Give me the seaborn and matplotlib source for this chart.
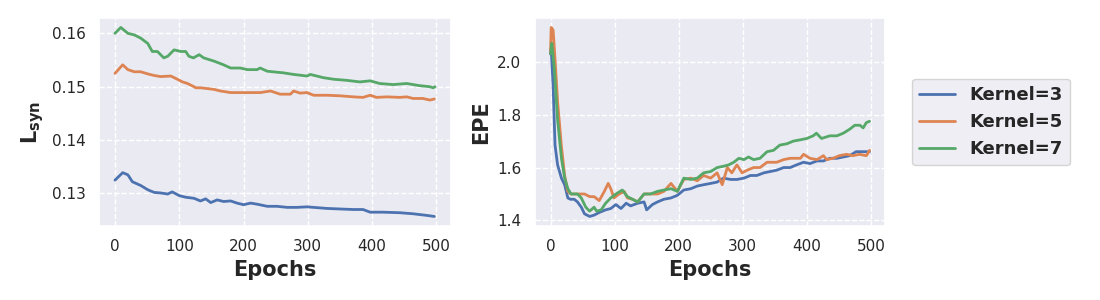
import pandas as pd
import numpy as np
import matplotlib
matplotlib.use('Agg')
import matplotlib.pyplot as plt
import seaborn as sns

# L_syn curves (left panel)
syn_ep_k3 = [0, 12, 20, 27, 40, 51, 61, 71, 82, 89, 100, 110, 123, 133, 141, 149, 159, 169, 180, 190,
             200, 211, 221, 237, 252, 268, 283, 299, 309, 330, 350, 371, 386, 397, 417, 443, 464, 485, 497]
syn_k3 = [0.1325, 0.1339, 0.1335, 0.1322, 0.1315, 0.1307, 0.1302, 0.1301, 0.1299, 0.1303, 0.1296, 0.1293,
          0.1291, 0.1286, 0.1290, 0.1283, 0.1288, 0.1285, 0.1286, 0.1282, 0.1279, 0.1282, 0.1280, 0.1276,
          0.1276, 0.1274, 0.1274, 0.1275, 0.1274, 0.1272, 0.1271, 0.1270, 0.1270, 0.1265, 0.1265, 0.1264,
          0.1262, 0.1259, 0.1257]

syn_ep_k5 = [0, 12, 20, 30, 40, 51, 61, 71, 87, 97, 105, 113, 126, 133, 154, 164, 180, 195, 211, 226,
             242, 257, 273, 278, 288, 299, 309, 330, 350, 371, 386, 397, 407, 423, 443, 454, 464, 479, 490, 497]
syn_k5 = [0.1525, 0.1541, 0.1532, 0.1528, 0.1528, 0.1524, 0.1521, 0.1519, 0.1520, 0.1514, 0.1509, 0.1506,
          0.1498, 0.1498, 0.1495, 0.1492, 0.1489, 0.1489, 0.1489, 0.1489, 0.1492, 0.1486, 0.1486, 0.1492,
          0.1488, 0.1489, 0.1484, 0.1484, 0.1483, 0.1481, 0.1480, 0.1484, 0.1480, 0.1481, 0.1480, 0.1481,
          0.1478, 0.1478, 0.1475, 0.1477]

syn_ep_k7 = [0, 9, 20, 30, 40, 51, 58, 66, 76, 82, 92, 102, 110, 115, 122, 131, 138, 154, 169, 180,
             195, 206, 221, 226, 237, 262, 278, 299, 304, 324, 340, 360, 381, 397, 412, 433, 454, 474, 490, 495, 498]
syn_k7 = [0.1600, 0.1611, 0.1600, 0.1597, 0.1591, 0.1581, 0.1566, 0.1566, 0.1554, 0.1557, 0.1569, 0.1566,
          0.1566, 0.1557, 0.1554, 0.1560, 0.1554, 0.1548, 0.1541, 0.1535, 0.1535, 0.1532, 0.1532, 0.1535,
          0.1529, 0.1526, 0.1523, 0.1520, 0.1523, 0.1517, 0.1514, 0.1512, 0.1509, 0.1511, 0.1506, 0.1504,
          0.1506, 0.1502, 0.1500, 0.1498, 0.1500]

# EPE curves (right panel)
epe_ep_k3 = [0, 1, 4, 7, 11, 17, 22, 27, 31, 37, 42, 48, 53, 61, 68, 76, 86, 94, 102, 110, 118, 125,
             136, 146, 150, 159, 167, 177, 188, 198, 208, 219, 229, 239, 250, 260, 270, 281, 291, 302,
             312, 322, 333, 343, 353, 364, 374, 384, 395, 405, 416, 426, 436, 447, 457, 467, 477, 488, 498]
epe_k3 = [2.03, 2.05, 1.91, 1.685, 1.61, 1.56, 1.535, 1.485, 1.48, 1.48, 1.47, 1.45, 1.425, 1.415, 1.42,
          1.43, 1.44, 1.445, 1.46, 1.445, 1.465, 1.455, 1.465, 1.47, 1.44, 1.46, 1.47, 1.48, 1.485, 1.495,
          1.515, 1.52, 1.53, 1.535, 1.54, 1.545, 1.56, 1.555, 1.555, 1.56, 1.57, 1.57, 1.58, 1.585, 1.59,
          1.60, 1.60, 1.61, 1.62, 1.615, 1.625, 1.625, 1.635, 1.635, 1.64, 1.645, 1.66, 1.66, 1.66]

epe_ep_k5 = [0, 1, 4, 7, 11, 17, 22, 27, 32, 42, 53, 61, 68, 76, 84, 90, 94, 99, 107, 115, 120, 128,
             136, 146, 156, 167, 177, 188, 198, 208, 219, 229, 239, 250, 260, 268, 276, 283, 291, 299,
             307, 317, 327, 338, 353, 364, 374, 390, 395, 405, 416, 426, 431, 441, 451, 462, 472, 482, 493, 498]
epe_k5 = [2.04, 2.13, 2.12, 2.01, 1.85, 1.68, 1.57, 1.51, 1.50, 1.50, 1.50, 1.49, 1.49, 1.475, 1.51,
          1.54, 1.52, 1.485, 1.50, 1.51, 1.485, 1.48, 1.47, 1.50, 1.50, 1.50, 1.51, 1.54, 1.51, 1.555,
          1.56, 1.55, 1.57, 1.56, 1.58, 1.535, 1.60, 1.58, 1.61, 1.58, 1.59, 1.60, 1.60, 1.62, 1.62,
          1.63, 1.635, 1.635, 1.65, 1.635, 1.63, 1.645, 1.63, 1.635, 1.645, 1.65, 1.645, 1.65, 1.645, 1.665]

epe_ep_k7 = [0, 2, 6, 11, 17, 22, 27, 32, 42, 48, 55, 61, 68, 72, 79, 86, 94, 102, 112, 120, 128, 136,
             146, 156, 167, 177, 188, 198, 208, 219, 229, 239, 250, 260, 270, 278, 286, 294, 302, 309,
             317, 327, 338, 348, 358, 369, 379, 390, 400, 410, 415, 423, 436, 447, 457, 467, 475, 483,
             488, 493, 498]
epe_k7 = [2.03, 2.07, 1.97, 1.78, 1.635, 1.56, 1.52, 1.50, 1.50, 1.485, 1.45, 1.435, 1.45, 1.435, 1.44,
          1.465, 1.485, 1.50, 1.515, 1.49, 1.48, 1.47, 1.50, 1.50, 1.51, 1.515, 1.52, 1.51, 1.56, 1.555,
          1.56, 1.58, 1.585, 1.60, 1.605, 1.61, 1.62, 1.635, 1.63, 1.64, 1.63, 1.635, 1.66, 1.665, 1.685,
          1.69, 1.70, 1.705, 1.71, 1.72, 1.73, 1.71, 1.72, 1.72, 1.73, 1.745, 1.76, 1.76, 1.75, 1.77, 1.775]

labels = ['Kernel=3', 'Kernel=5', 'Kernel=7']


def long_df(eps, vals):
    parts = []
    for lab, e, v in zip(labels, eps, vals):
        parts.append(pd.DataFrame({'Epochs': e, 'value': v, 'model': lab}))
    return pd.concat(parts, ignore_index=True)


df_syn = long_df([syn_ep_k3, syn_ep_k5, syn_ep_k7], [syn_k3, syn_k5, syn_k7])
df_epe = long_df([epe_ep_k3, epe_ep_k5, epe_ep_k7], [epe_k3, epe_k5, epe_k7])

sns.set_theme(style='darkgrid', rc={'grid.linestyle': '--'})
palette = sns.color_palette('deep', 3)

fig = plt.figure(figsize=(11, 3), dpi=100)
ax1 = fig.add_axes([0.09, 0.247, 0.32, 0.693])
ax2 = fig.add_axes([0.486, 0.247, 0.319, 0.693])

sns.lineplot(data=df_syn, x='Epochs', y='value', hue='model', palette=palette,
             linewidth=2, ax=ax1, legend=False)
sns.lineplot(data=df_epe, x='Epochs', y='value', hue='model', palette=palette,
             linewidth=2, ax=ax2)

ax1.set_ylabel(r'$\mathbf{L_{syn}}$', fontsize=15, fontweight='bold')
ax2.set_ylabel('EPE', fontsize=15, fontweight='bold')
for ax in (ax1, ax2):
    ax.set_xlabel('Epochs', fontsize=15, fontweight='bold')
    ax.tick_params(labelsize=11)
    ax.set_xticks([0, 100, 200, 300, 400, 500])
ax1.set_yticks([0.13, 0.14, 0.15, 0.16])
ax2.set_yticks([1.4, 1.6, 1.8, 2.0])

handles, _ = ax2.get_legend_handles_labels()
ax2.legend(handles=handles, labels=labels, loc='center left', bbox_to_anchor=(1.05, 0.5),
           prop={'weight': 'bold', 'size': 13})

fig.savefig('out.png', dpi=100)
